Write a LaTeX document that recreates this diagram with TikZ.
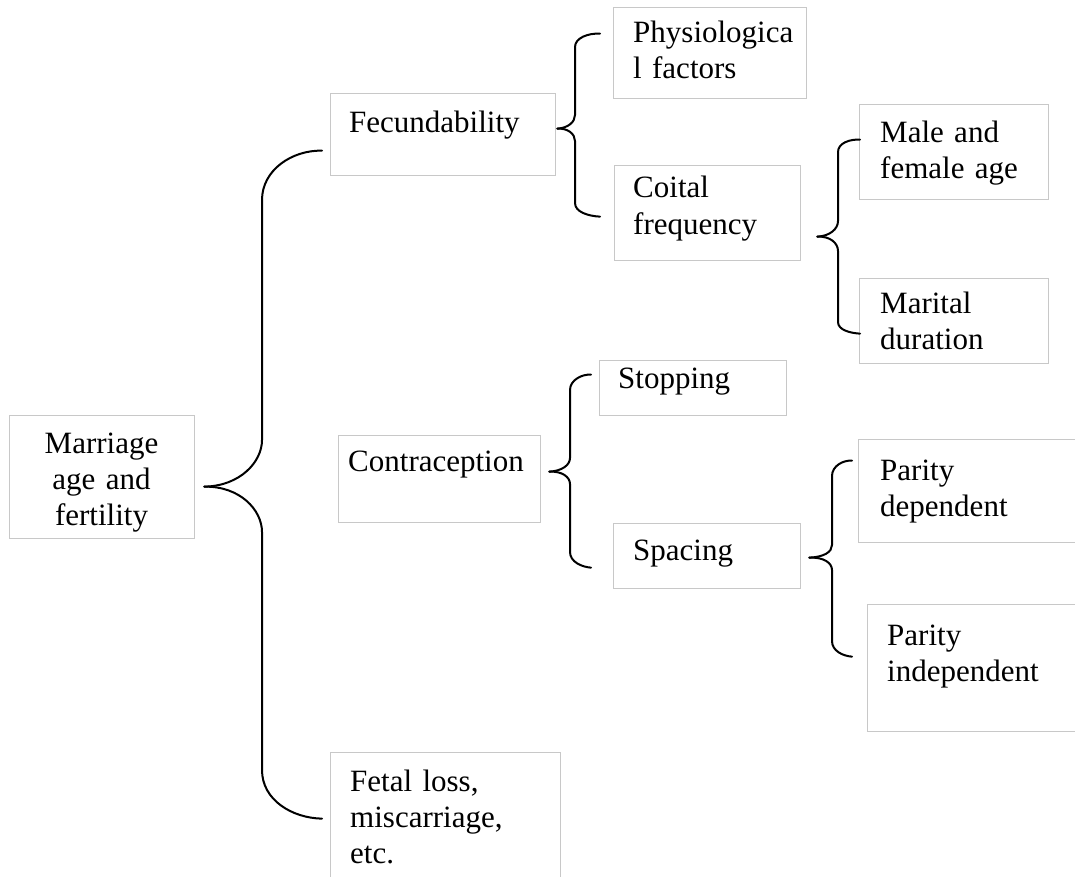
\documentclass[tikz,border=0pt]{standalone}
\usepackage{fontspec}
\setmainfont{Liberation Serif}
\definecolor{boxgray}{RGB}{200,200,200}
\begin{document}
\begin{tikzpicture}[x=1pt,y=-1pt,
  box/.style={draw=boxgray, line width=1.3pt, inner sep=0pt, anchor=north west},
  txt/.style={inner sep=0pt, anchor=base west, text width=240pt, align=left, font=\fontsize{31}{36}\selectfont},
  brace/.style={draw=black, line width=2pt, line join=round, line cap=round}]
\useasboundingbox (0,0) rectangle (1075,877);

% boxes
\node[box, minimum width=185pt, minimum height=123pt] (mar) at (9,415) {};
\node[box, minimum width=225pt, minimum height=82pt]  (fec) at (330,93) {};
\node[box, minimum width=193pt, minimum height=91pt]  (phy) at (613,7) {};
\node[box, minimum width=186pt, minimum height=95pt]  (coi) at (614,165) {};
\node[box, minimum width=189pt, minimum height=95pt]  (mal) at (859,104) {};
\node[box, minimum width=189pt, minimum height=85pt]  (mrd) at (859,278) {};
\node[box, minimum width=202pt, minimum height=87pt]  (con) at (338,435) {};
\node[box, minimum width=187pt, minimum height=55pt]  (sto) at (599,360) {};
\node[box, minimum width=187pt, minimum height=65pt]  (spa) at (613,523) {};
\node[box, minimum width=230pt, minimum height=103pt] (pd)  at (858,439) {};
\node[box, minimum width=220pt, minimum height=127pt] (pi)  at (867,604) {};
\node[box, minimum width=230pt, minimum height=140pt] (fet) at (330,752) {};

% texts
\node[txt, anchor=base, align=center, text width=185pt] (marT) at (101.5,453) {Marriage\\age and\\fertility};
\node[txt] (fecT) at (349,133) {Fecundability};
\node[txt] (phyT) at (633,43) {Physiologica\\l factors};
\node[txt] (coiT) at (633,198) {Coital\\frequency};
\node[txt] (malT) at (880,143) {Male and\\female age};
\node[txt] (mrdT) at (880,313) {Marital\\duration};
\node[txt] (conT) at (348,471) {Contraception};
\node[txt] (stoT) at (618,388) {Stopping};
\node[txt] (spaT) at (633,560) {Spacing};
\node[txt] (pdT)  at (880,480) {Parity\\dependent};
\node[txt] (piT)  at (887,645) {Parity\\independent};
\node[txt] (fetT) at (350,791) {Fetal loss,\\miscarriage,\\etc.};

% brace tips
\coordinate (t1) at ([xshift=9pt,yshift=-9.5pt]mar.east);
\coordinate (t2) at ([xshift=1pt,yshift=6pt]fec.east);
\coordinate (t3) at ([xshift=16pt,yshift=-23.5pt]coi.east);
\coordinate (t4) at ([xshift=8pt,yshift=7.5pt]con.east);
\coordinate (t5) at ([xshift=8pt,yshift=-1.5pt]spa.east);

% brace 1
\draw[brace] (t1) .. controls (240,486) and (262,462) .. (262,440) -- (262,200)
  .. controls (262,170) and (292,150) .. ([xshift=-8pt,yshift=-16pt]fec.west);
\draw[brace] (t1) .. controls (240,486) and (262,510) .. (262,532) -- (262,770)
  .. controls (262,800) and (292,818) .. ([xshift=-8pt,yshift=4pt]fet.west);
% brace 2
\draw[brace] (t2) .. controls (568,128) and (575,122) .. (575,115) -- (575,47)
  .. controls (575,38) and (588,33) .. ([xshift=-13pt,yshift=19.5pt]phy.west);
\draw[brace] (t2) .. controls (568,128) and (575,134) .. (575,141) -- (575,203)
  .. controls (575,212) and (588,216) .. ([xshift=-14pt,yshift=-3.5pt]coi.west);
% brace 3
\draw[brace] (t3) .. controls (830,236) and (838,229) .. (838,221) -- (838,152)
  .. controls (838,143) and (850,139) .. ([xshift=1pt,yshift=12.5pt]mal.west);
\draw[brace] (t3) .. controls (830,236) and (838,243) .. (838,251) -- (838,322)
  .. controls (838,330) and (850,333) .. ([xshift=1pt,yshift=-12.5pt]mrd.west);
% brace 4
\draw[brace] (t4) .. controls (562,471) and (570,465) .. (570,458) -- (570,390)
  .. controls (570,380) and (582,374) .. ([xshift=-8pt,yshift=13.5pt]sto.west);
\draw[brace] (t4) .. controls (562,471) and (570,477) .. (570,484) -- (570,552)
  .. controls (570,562) and (582,567) .. ([xshift=-22pt,yshift=-11.5pt]spa.west);
% brace 5
\draw[brace] (t5) .. controls (824,557) and (832,552) .. (832,545) -- (832,476)
  .. controls (832,466) and (843,460) .. ([xshift=-6pt,yshift=30.5pt]pd.west);
\draw[brace] (t5) .. controls (824,557) and (832,563) .. (832,570) -- (832,641)
  .. controls (832,651) and (843,656) .. ([xshift=-15pt,yshift=11.5pt]pi.west);
\end{tikzpicture}
\end{document}
